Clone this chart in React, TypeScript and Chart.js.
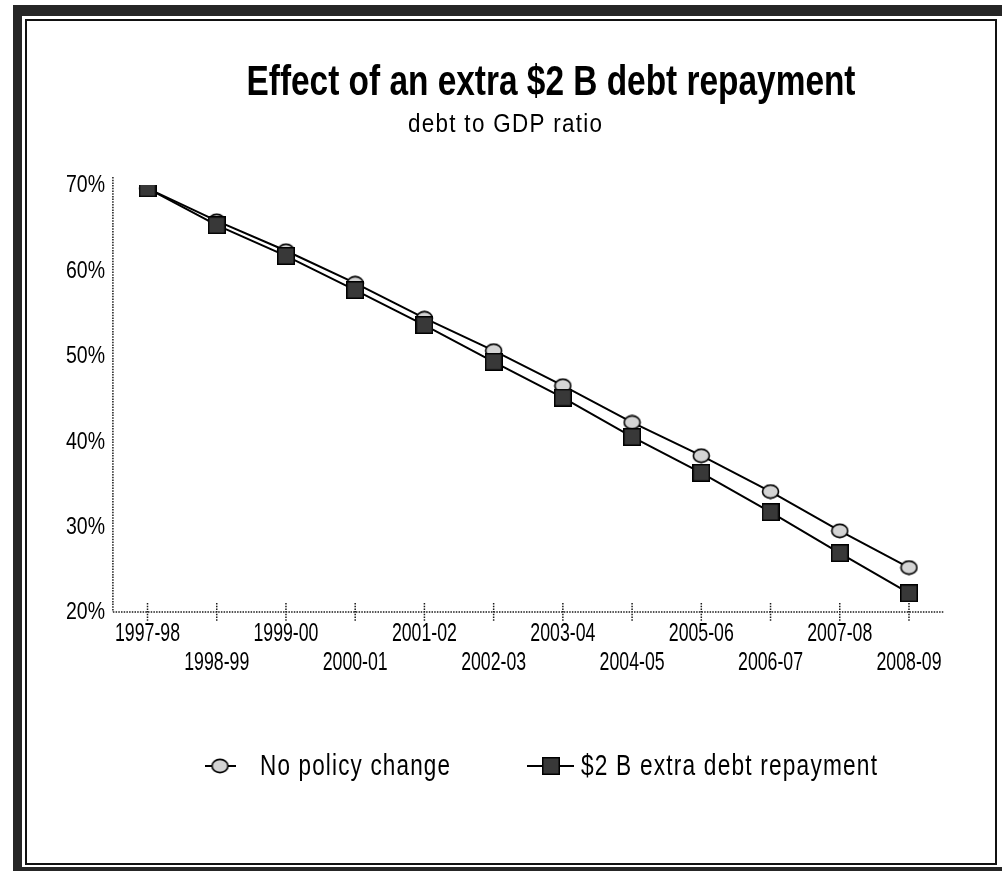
import React, { useEffect, useRef } from 'react';
import { Chart, registerables } from 'chart.js';

Chart.register(...registerables);

const categories = ['1997-98', '1998-99', '1999-00', '2000-01', '2001-02', '2002-03', '2003-04', '2004-05', '2005-06', '2006-07', '2007-08', '2008-09'];
const noPolicyChange = [69.6, 65.8, 62.3, 58.5, 54.4, 50.6, 46.5, 42.2, 38.3, 34.1, 29.5, 25.2];
const extraRepayment = [69.6, 65.3, 61.7, 57.7, 53.6, 49.3, 45.1, 40.5, 36.3, 31.7, 26.9, 22.2];
const yTicks = [20, 30, 40, 50, 60, 70];
const seriesLabels = ['No policy change', '$2 B extra debt repayment'];
const titleText = 'Effect of an extra $2 B debt repayment';
const subtitleText = 'debt to GDP ratio';

const FONT = '"Liberation Sans", Arial, sans-serif';

function makeEllipse(): HTMLCanvasElement {
  const c = document.createElement('canvas');
  c.width = 19;
  c.height = 16;
  const g = c.getContext('2d')!;
  g.beginPath();
  g.ellipse(9.5, 8, 8, 6.6, 0, 0, Math.PI * 2);
  g.fillStyle = '#d4d4d4';
  g.fill();
  g.lineWidth = 1.6;
  g.strokeStyle = '#000';
  g.stroke();
  return c;
}

function makeSquare(): HTMLCanvasElement {
  const c = document.createElement('canvas');
  c.width = 18;
  c.height = 18;
  const g = c.getContext('2d')!;
  g.fillStyle = '#000';
  g.fillRect(0, 0, 18, 18);
  g.fillStyle = '#383838';
  g.fillRect(1.5, 1.5, 15, 15);
  return c;
}

type TextOpts = {
  size: number;
  bold?: boolean;
  align: 'left' | 'center' | 'right';
  width?: number;
  sx?: number;
  spacing?: number;
  baseline?: CanvasTextBaseline;
};

function setFont(ctx: CanvasRenderingContext2D, o: TextOpts) {
  ctx.font = `${o.bold ? 'bold ' : ''}${o.size}px ${FONT}`;
  (ctx as any).letterSpacing = (o.spacing || 0) + 'px';
  ctx.textBaseline = o.baseline || 'alphabetic';
  ctx.textAlign = 'left';
}

function drawText(ctx: CanvasRenderingContext2D, text: string, x: number, y: number, o: TextOpts) {
  ctx.save();
  setFont(ctx, o);
  const w = ctx.measureText(text).width - (o.spacing || 0);
  const sx = o.width ? o.width / w : o.sx || 1;
  const dw = w * sx;
  let left = x;
  if (o.align === 'center') left = x - dw / 2;
  else if (o.align === 'right') left = x - dw;
  ctx.translate(left, y);
  ctx.scale(sx, 1);
  ctx.fillStyle = '#000';
  ctx.fillText(text, 0, 0);
  ctx.restore();
}

function measure(ctx: CanvasRenderingContext2D, text: string, o: TextOpts) {
  ctx.save();
  setFont(ctx, o);
  const w = ctx.measureText(text).width - (o.spacing || 0);
  ctx.restore();
  return w;
}

export default function App() {
  const ref = useRef<HTMLCanvasElement | null>(null);

  useEffect(() => {
    const canvas = ref.current;
    if (!canvas) return;
    const ellipse = makeEllipse();
    const square = makeSquare();

    const decor = {
      id: 'decor',
      beforeDatasetsDraw(chart: any) {
        const ctx: CanvasRenderingContext2D = chart.ctx;
        const { left, right, top, bottom } = chart.chartArea;
        const xs = chart.scales.x;
        ctx.save();
        ctx.strokeStyle = '#1a1a1a';
        ctx.lineWidth = 1.5;
        ctx.setLineDash([1.5, 1.2]);
        ctx.beginPath();
        ctx.moveTo(left, top - 8);
        ctx.lineTo(left, bottom);
        ctx.moveTo(left, bottom);
        ctx.lineTo(right, bottom);
        categories.forEach((_, i) => {
          const px = xs.getPixelForValue(i);
          ctx.moveTo(px, bottom - 9);
          ctx.lineTo(px, bottom + 10);
        });
        ctx.stroke();
        ctx.restore();
      },
      afterDraw(chart: any) {
        const ctx: CanvasRenderingContext2D = chart.ctx;
        const xs = chart.scales.x;
        const ys = chart.scales.y;
        const bottom = chart.chartArea.bottom;

        // y tick labels
        const yOpts: TextOpts = { size: 23, align: 'right', baseline: 'middle' };
        const sxY = 39 / measure(ctx, '70%', yOpts);
        yTicks.forEach((v) => {
          drawText(ctx, v + '%', 105, ys.getPixelForValue(v) + 1, { ...yOpts, sx: sxY });
        });

        // x tick labels (alternating rows)
        const xOpts: TextOpts = { size: 26, align: 'center', baseline: 'middle' };
        const sxX = 65 / measure(ctx, '1997-98', xOpts);
        categories.forEach((c, i) => {
          const row = i % 2;
          drawText(ctx, c, xs.getPixelForValue(i), bottom + 22 + row * 29, { ...xOpts, sx: sxX });
        });

        // title & subtitle
        drawText(ctx, titleText, 551, 95, { size: 42, bold: true, align: 'center', width: 609 });
        drawText(ctx, subtitleText, 505, 132, { size: 26, align: 'center', width: 194, spacing: 1.5 });

        // legend
        const ly = 766;
        ctx.save();
        ctx.strokeStyle = '#000';
        ctx.lineWidth = 2;
        ctx.beginPath();
        ctx.moveTo(205, ly);
        ctx.lineTo(236, ly);
        ctx.moveTo(527, ly);
        ctx.lineTo(574, ly);
        ctx.stroke();
        ctx.drawImage(ellipse, 220 - ellipse.width / 2, ly - ellipse.height / 2);
        ctx.drawImage(square, 551 - square.width / 2, ly - square.height / 2);
        ctx.restore();
        drawText(ctx, seriesLabels[0], 260, 775, { size: 29, align: 'left', width: 190, spacing: 1.5 });
        drawText(ctx, seriesLabels[1], 581, 775, { size: 29, align: 'left', width: 296, spacing: 1.5 });
      },
    };

    const chart = new Chart(canvas, {
      type: 'line',
      data: {
        labels: categories,
        datasets: [
          {
            label: seriesLabels[0],
            data: noPolicyChange,
            borderColor: '#000',
            borderWidth: 2,
            pointStyle: ellipse as any,
            pointRadius: 8,
            order: 1,
            fill: false,
          },
          {
            label: seriesLabels[1],
            data: extraRepayment,
            borderColor: '#000',
            borderWidth: 2,
            pointStyle: square as any,
            pointRadius: 9,
            order: 0,
            fill: false,
          },
        ],
      },
      options: {
        animation: false,
        responsive: false,
        devicePixelRatio: 1,
        layout: { padding: { left: 112.9, right: 58.4, top: 185, bottom: 259 } },
        scales: {
          x: { type: 'category', offset: true, display: false },
          y: { min: 20, max: 70, display: false },
        },
        plugins: {
          legend: { display: false },
          tooltip: { enabled: false },
          title: { display: false },
        },
      },
      plugins: [decor],
    });
    return () => chart.destroy();
  }, []);

  return (
    <div style={{ position: 'absolute', left: 0, top: 0, width: 1002, height: 871, background: '#fff', overflow: 'hidden' }}>
      <div style={{ position: 'absolute', left: 13, top: 5, width: 989, height: 866, background: '#262626' }} />
      <div style={{ position: 'absolute', left: 22, top: 16, width: 980, height: 851, background: '#fff' }} />
      <div style={{ position: 'absolute', left: 25, top: 19, width: 972, height: 846, border: '2px solid #111', boxSizing: 'border-box' }} />
      <canvas ref={ref} width={1002} height={871} style={{ position: 'absolute', left: 0, top: 0, width: 1002, height: 871 }} />
    </div>
  );
}
